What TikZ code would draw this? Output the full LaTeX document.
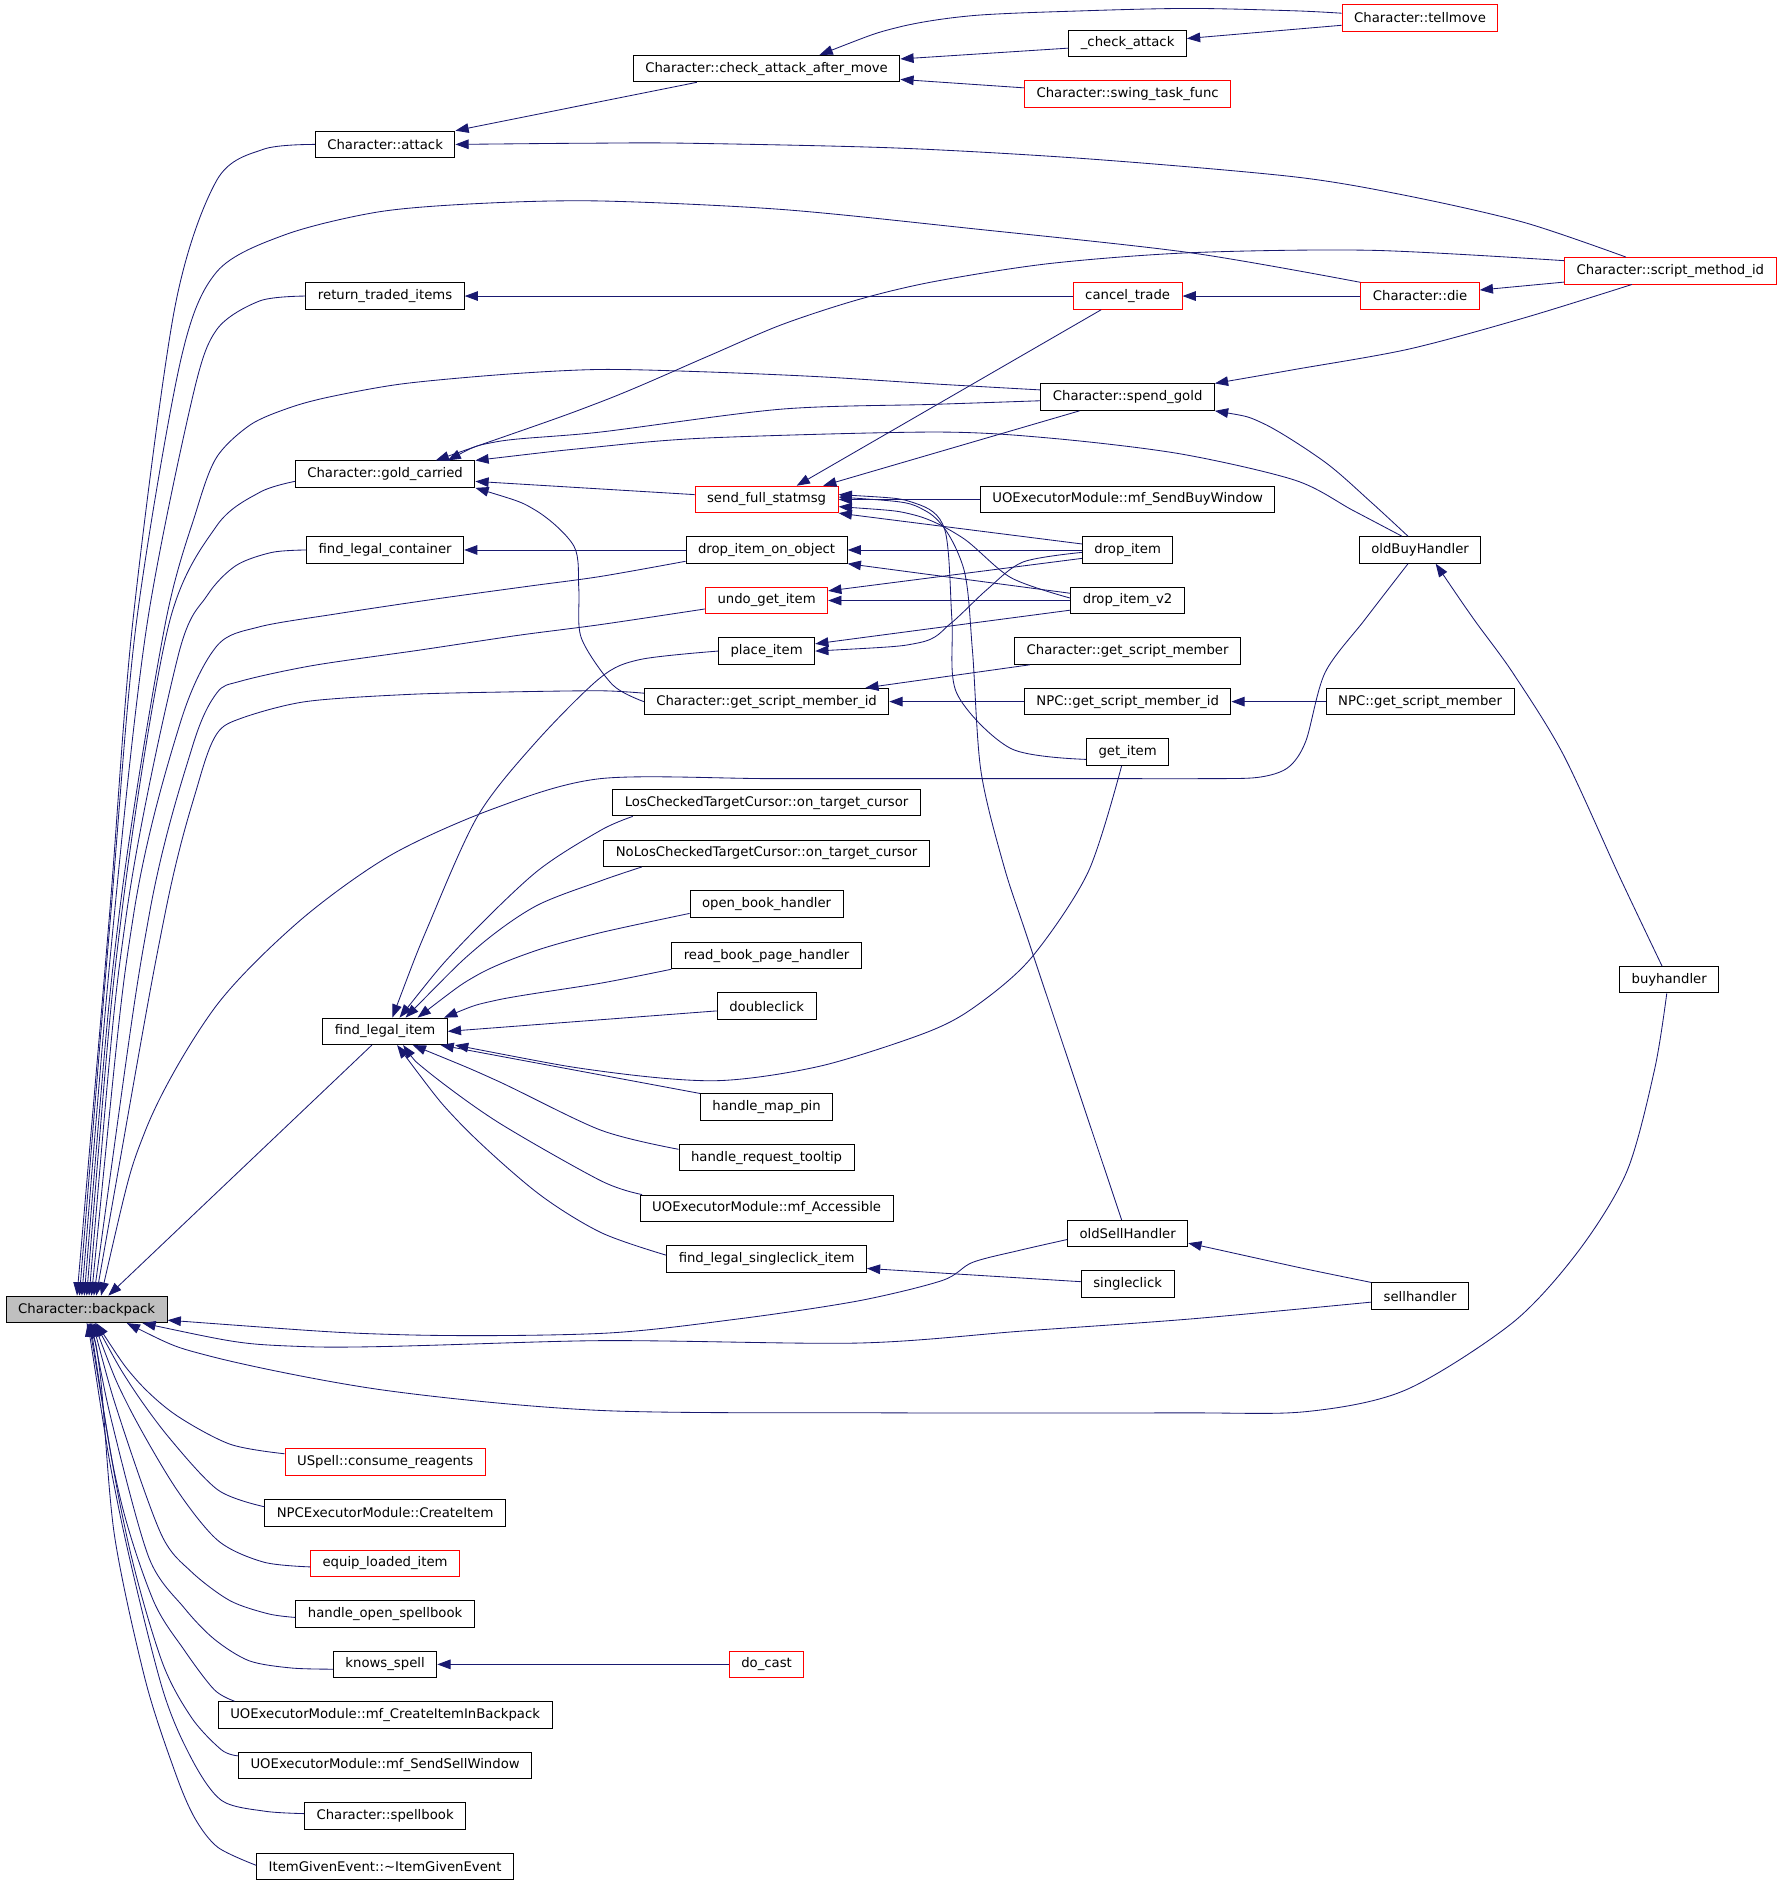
\documentclass[tikz,border=0pt]{standalone}
\usepackage{fontspec}
\setmainfont{DejaVu Sans}
\usepackage{xcolor}
\usetikzlibrary{arrows.meta}

\definecolor{edgeblue}{HTML}{191970}
\definecolor{rootgray}{HTML}{BFBFBF}

\tikzset{
  fn/.style={draw=black, line width=0.8pt, fill=white, rectangle, inner xsep=10pt, inner ysep=0pt,
    minimum height=22pt, font=\fontsize{11}{13}\selectfont},
  trunc/.style={fn, draw=red},
  root/.style={fn, fill=rootgray},
  call/.style={draw=edgeblue, line width=0.7pt, {Triangle[length=11pt,width=8pt]}-},
}

\begin{document}
\begin{tikzpicture}[x=1pt,y=-1pt]
\useasboundingbox (0,0) rectangle (1480,1568);

% Root
\node[root] (backpack) at (72,1088) {Character::backpack};

% Direct callers
\node[fn] (attack) at (320,120) {Character::attack};
\node[fn] (retitems) at (320,246) {return\_traded\_items};
\node[fn] (goldc) at (320,394) {Character::gold\_carried};
\node[fn] (findcont) at (320,457) {find\_legal\_container};
\node[fn] (findli) at (320,857) {find\_legal\_item};
\node[trunc] (consume) at (320,1215) {USpell::consume\_reagents};
\node[fn] (npccreate) at (320,1257) {NPCExecutorModule::CreateItem};
\node[trunc] (equip) at (320,1299) {equip\_loaded\_item};
\node[fn] (openspell) at (320,1341) {handle\_open\_spellbook};
\node[fn] (knowsp) at (320,1383) {knows\_spell};
\node[fn] (mfcreate) at (320,1425) {UOExecutorModule::mf\_CreateItemInBackpack};
\node[fn] (mfsell) at (320,1467) {UOExecutorModule::mf\_SendSellWindow};
\node[fn] (spellbk) at (320,1509) {Character::spellbook};
\node[fn] (itemgiven) at (320,1551) {ItemGivenEvent::\textasciitilde ItemGivenEvent};

% Third column
\node[fn] (checkmove) at (637,57) {Character::check\_attack\_after\_move};
\node[trunc] (statmsg) at (637,415) {send\_full\_statmsg};
\node[fn] (dropobj) at (637,457) {drop\_item\_on\_object};
\node[trunc] (undoget) at (637,499) {undo\_get\_item};
\node[fn] (placeit) at (637,541) {place\_item};
\node[fn] (getsmid) at (637,583) {Character::get\_script\_member\_id};
\node[fn] (loscur) at (637,667) {LosCheckedTargetCursor::on\_target\_cursor};
\node[fn] (noloscur) at (637,709) {NoLosCheckedTargetCursor::on\_target\_cursor};
\node[fn] (openbook) at (637,751) {open\_book\_handler};
\node[fn] (readbook) at (637,794) {read\_book\_page\_handler};
\node[fn] (dblclick) at (637,836) {doubleclick};
\node[fn] (mappin) at (637,920) {handle\_map\_pin};
\node[fn] (tooltip) at (637,962) {handle\_request\_tooltip};
\node[fn] (mfaccess) at (637,1004) {UOExecutorModule::mf\_Accessible};
\node[fn] (singleitem) at (637,1046) {find\_legal\_singleclick\_item};
\node[trunc] (docast) at (637,1383) {do\_cast};

% Fourth column
\node[fn] (chkattack) at (937,36) {\_check\_attack};
\node[trunc] (swingtask) at (937,78) {Character::swing\_task\_func};
\node[trunc] (canceltrade) at (937,246) {cancel\_trade};
\node[fn] (spendgold) at (937,330) {Character::spend\_gold};
\node[fn] (mfbuy) at (937,415) {UOExecutorModule::mf\_SendBuyWindow};
\node[fn] (dropit) at (937,457) {drop\_item};
\node[fn] (dropit2) at (937,499) {drop\_item\_v2};
\node[fn] (getsm) at (937,541) {Character::get\_script\_member};
\node[fn] (npcsmid) at (937,583) {NPC::get\_script\_member\_id};
\node[fn] (getit) at (937,625) {get\_item};
\node[fn] (oldsell) at (937,1025) {oldSellHandler};
\node[fn] (sglclick) at (937,1067) {singleclick};

% Fifth and sixth column
\node[trunc] (tellmove) at (1180,15) {Character::tellmove};
\node[trunc] (chardie) at (1180,246) {Character::die};
\node[fn] (oldbuy) at (1180,457) {oldBuyHandler};
\node[fn] (npcsm) at (1180,583) {NPC::get\_script\_member};
\node[fn] (sellh) at (1180,1077) {sellhandler};
\node[trunc] (smid) at (1388,225) {Character::script\_method\_id};
\node[fn] (buyh) at (1387,814) {buyhandler};

% Calls into backpack, upper fan
\draw[call] plot[smooth] coordinates {([xshift=-8pt]backpack.north) (91,760) (110,520) (145,257) (180,150) (219,124) (attack.west)};
\draw[call] plot[smooth] coordinates {([xshift=-6pt]backpack.north) (92,760) (113,520) (150,300) (180,226) (237,195) (315,176) (400,169) (499,167) (649,174) (808,190) (989,210) (chardie.north west)};
\draw[call] plot[smooth] coordinates {([xshift=-4pt]backpack.north) (95,760) (122,520) (160,330) (180,274) (216,250) (retitems.west)};
\draw[call] plot[smooth] coordinates {([xshift=-2pt]backpack.north) (99,760) (137,520) (163,425) (180,380) (208,353) (240,339) (273,330) (334,319) (420,311) (499,307) (586,309) (680,313) (776,319) ([yshift=6pt]spendgold.west)};
\draw[call] plot[smooth] coordinates {(backpack.north) (101,760) (140,520) (180,437) (216,409) ([yshift=-6pt]goldc.west)};
\draw[call] plot[smooth] coordinates {([xshift=2pt]backpack.north) (105,760) (148,545) (172,495) (196,470) (226,459) (findcont.west)};
\draw[call] plot[smooth] coordinates {([xshift=4pt]backpack.north) (111,760) (150,600) (180,537) (215,521) (280,510) (360,498) (440,487) (499,479) ([yshift=2pt]dropobj.south west)};
\draw[call] plot[smooth] coordinates {([xshift=6pt]backpack.north) (124,760) (160,620) (180,576) (200,566) (260,553) (350,540) (430,528) (499,519) ([yshift=-7pt]undoget.west)};
\draw[call] plot[smooth] coordinates {([xshift=8pt]backpack.north) (137,760) (165,650) (180,610) (200,597) (254,583) (340,577) (420,575) (499,574) ([yshift=7pt]getsmid.west)};
\draw[call] plot[smooth] coordinates {([xshift=12pt]backpack.north) (121,939) (178,838) (248,766) (324,711) (410,672) (499,647) (640,647) (780,647) (920,647) (1000,647) (1045,646) (1070,638) (1085,616) (1101,559) (1134,515) ([xshift=-10pt]oldbuy.south)};
\draw[call] ([xshift=18pt]backpack.north) -- ([xshift=-11pt]findli.south);

% Calls into backpack from the right
\draw[call] plot[smooth] coordinates {([yshift=-9pt]backpack.east) (331,1109) (499,1108) (613,1096) (713,1081) (783,1064) (808,1049) (847,1039) ([yshift=-5pt]oldsell.west)};
\draw[call] plot[smooth] coordinates {([xshift=-21pt]backpack.south east) (254,1119) (499,1114) (713,1116) (850,1106) (989,1096) ([yshift=-5pt]sellh.west)};
\draw[call] plot[smooth] coordinates {([xshift=-34pt]backpack.south east) (175,1127) (318,1155) (499,1172) (740,1174) (980,1174) (1085,1173) (1168,1155) (1257,1099) (1312,1039) (1352,973) (1375,888) ([xshift=-2pt]buyh.south)};

% Calls into backpack, lower fan
\draw[call] plot[smooth] coordinates {([xshift=8pt]backpack.south) (112,1145) (145,1175) (191,1200) ([yshift=7pt]consume.west)};
\draw[call] plot[smooth] coordinates {([xshift=7pt]backpack.south) (108,1150) (140,1194) (181,1238) ([yshift=5pt]npccreate.west)};
\draw[call] plot[smooth] coordinates {([xshift=6pt]backpack.south) (105,1165) (145,1235) (181,1280) (219,1298) ([yshift=-3pt]equip.west)};
\draw[call] plot[smooth] coordinates {([xshift=5pt]backpack.south) (100,1180) (134,1275) (159,1306) (191,1330) (223,1341) ([yshift=-3pt]openspell.west)};
\draw[call] plot[smooth] coordinates {([xshift=4pt]backpack.south) (95,1190) (124,1295) (153,1336) (178,1362) (207,1380) (242,1386) ([yshift=-4pt]knowsp.west)};
\draw[call] plot[smooth] coordinates {([xshift=3pt]backpack.south) (99,1241) (127,1329) (153,1371) (178,1404) ([xshift=14pt]mfcreate.north west)};
\draw[call] plot[smooth] coordinates {([xshift=2pt]backpack.south) (105,1275) (134,1379) (159,1427) (184,1454) ([yshift=8pt]mfsell.west)};
\draw[call] plot[smooth] coordinates {([xshift=1pt]backpack.south) (99,1255) (134,1400) (159,1461) (184,1496) (220,1505) ([yshift=2pt]spellbk.west)};
\draw[call] plot[smooth] coordinates {(backpack.south) (83,1140) (95,1275) (121,1397) (146,1474) (162,1511) (181,1535) ([yshift=1pt]itemgiven.west)};

% Attack chain
\draw[call] (attack.north east) -- ([xshift=-58pt]checkmove.south);
\draw[call] ([yshift=8pt]checkmove.east) -- ([yshift=-4pt]chkattack.west);
\draw[call] ([yshift=-9pt]checkmove.east) -- ([yshift=5pt]swingtask.west);
\draw[call] plot[smooth] coordinates {([xshift=44pt]checkmove.north) (745,23) (808,13) (900,9) (989,7) (1076,9) ([yshift=4pt]tellmove.west)};
\draw[call] ([yshift=4pt]chkattack.east) -- ([yshift=-6pt]tellmove.west);

% script_method_id
\draw[call] plot[smooth] coordinates {(attack.east) (490,119) (570,119) (745,123) (904,132) (1076,147) (1171,163) (1267,185) ([xshift=-37pt]smid.north)};
\draw[call] ([yshift=5pt]chardie.east) -- ([yshift=2pt]smid.south west);
\draw[call] plot[smooth] coordinates {(spendgold.north east) (1076,307) (1171,290) (1267,264) ([xshift=-32pt]smid.south)};
\draw[call] plot[smooth] coordinates {([xshift=42pt]goldc.north) (499,334) (586,297) (649,270) (713,249) (776,234) (872,219) (989,210) (1140,208) ([yshift=-3pt]smid.north west)};

% Trade
\draw[call] (retitems.east) -- (canceltrade.west);
\draw[call] (canceltrade.east) -- (chardie.west);

% Gold
\draw[call] plot[smooth] coordinates {([xshift=52pt]goldc.north) (413,367) (499,359) (649,340) (776,336) ([yshift=-3pt]spendgold.west)};
\draw[call] plot[smooth] coordinates {(goldc.north east) (490,372) (586,364) (776,359) (872,364) (980,377) (1076,399) (1124,424) ([xshift=-15pt]oldbuy.north)};
\draw[call] ([yshift=-6pt]goldc.east) -- ([yshift=4pt]statmsg.west);
\draw[call] plot[smooth] coordinates {(goldc.south east) (445,424) (477,454) (481,490) (483,530) (509,569) (getsmid.west)};
\draw[call] plot[smooth] coordinates {(spendgold.south east) (1050,352) (1101,384) (1139,417) ([xshift=-10pt]oldbuy.north)};

% Status message
\draw[call] ([xshift=25pt]statmsg.north) -- ([xshift=-22pt]canceltrade.south);
\draw[call] ([xshift=47pt]statmsg.north) -- ([xshift=-40pt]spendgold.south);
\draw[call] (statmsg.east) -- (mfbuy.west);
\draw[call] (statmsg.south east) -- ([yshift=5pt]dropit.west);
\draw[call] plot[smooth] coordinates {([yshift=-6pt]statmsg.east) (760,428) (800,447) (840,480) ([yshift=2pt]dropit2.west)};
\draw[call] plot[smooth] coordinates {([yshift=4pt]statmsg.east) (760,418) (785,440) (791,515) (795,576) (840,622) ([yshift=-6pt]getit.west)};
\draw[call] plot[smooth] coordinates {([yshift=2pt]statmsg.east) (770,425) (800,470) (808,540) (815,640) (834,719) (856,786) ([xshift=-5pt]oldsell.north)};

% Dropping items
\draw[call] (dropobj.east) -- (dropit.west);
\draw[call] (dropobj.south east) -- ([yshift=6pt]dropit2.west);
\draw[call] ([yshift=8pt]undoget.east) -- ([yshift=-7pt]dropit.west);
\draw[call] (undoget.east) -- (dropit2.west);
\draw[call] plot[smooth] coordinates {(placeit.east) (764,534) (790,518) (820,490) (850,467) ([yshift=-2pt]dropit.west)};
\draw[call] ([yshift=6pt]placeit.east) -- ([yshift=-8pt]dropit2.west);
\draw[call] (findcont.east) -- (dropobj.west);

% Script members
\draw[call] ([xshift=-20pt]getsmid.north east) -- ([xshift=13pt]getsm.south west);
\draw[call] (getsmid.east) -- (npcsmid.west);
\draw[call] (npcsmid.east) -- (npcsm.west);

% find_legal_item
\draw[call] plot[smooth] coordinates {([xshift=6pt]findli.north) (356,769) (397,678) (445,617) (499,563) (532,548) (placeit.west)};
\draw[call] plot[smooth] coordinates {([xshift=12pt]findli.north) (381,787) (445,725) (499,690) ([xshift=17pt]loscur.south west)};
\draw[call] plot[smooth] coordinates {([xshift=17pt]findli.north) (397,787) (445,753) (499,732) ([xshift=32pt]noloscur.south west)};
\draw[call] plot[smooth] coordinates {([xshift=27pt]findli.north) (397,810) (445,790) (499,775) ([yshift=-8pt]openbook.west)};
\draw[call] plot[smooth] coordinates {([xshift=49pt]findli.north) (413,831) (499,817) (readbook.south west)};
\draw[call] (findli.east) -- ([yshift=-4pt]dblclick.west);
\draw[call] plot[smooth] coordinates {([xshift=6pt]findli.south east) (499,890) (595,898) (681,886) (767,859) (808,838) (856,797) (904,725) ([xshift=-5pt]getit.south)};
\draw[call] ([xshift=-6pt]findli.south east) -- (mappin.north west);
\draw[call] plot[smooth] coordinates {([xshift=23pt]findli.south) (413,898) (499,939) ([yshift=7pt]tooltip.west)};
\draw[call] plot[smooth] coordinates {([xshift=15pt]findli.south) (355,890) (413,932) (499,981) ([xshift=2pt]mfaccess.north west)};
\draw[call] plot[smooth] coordinates {([xshift=10pt]findli.south) (381,932) (445,990) (499,1024) ([yshift=3pt]singleitem.west)};

% Lower right
\draw[call] ([yshift=-8pt]singleitem.east) -- ([yshift=2pt]sglclick.west);
\draw[call] plot[smooth] coordinates {([yshift=-8pt]oldsell.east) (1015,1039) (1083,1054) (sellh.north west)};
\draw[call] plot[smooth] coordinates {([xshift=13pt]oldbuy.south) (1225,515) (1257,559) (1299,627) (1346,729) ([xshift=-6pt]buyh.north)};
\draw[call] (knowsp.east) -- (docast.west);
\end{tikzpicture}
\end{document}
